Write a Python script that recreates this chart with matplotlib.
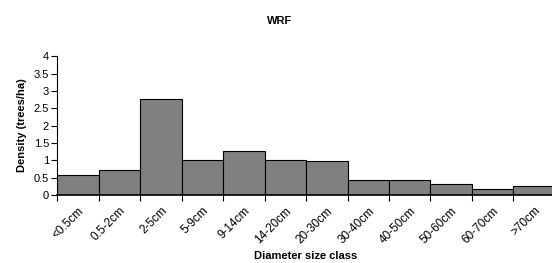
import matplotlib
matplotlib.use("Agg")
import matplotlib.pyplot as plt
import numpy as np

categories = ["<0.5cm", "0.5-2cm", "2-5cm", "5-9cm", "9-14cm", "14-20cm", "20-30cm",
              "30-40cm", "40-50cm", "50-60cm", "60-70cm", ">70cm"]
density = [0.57, 0.71, 2.77, 1.02, 1.27, 1.02, 0.98, 0.43, 0.43, 0.31, 0.16, 0.25]
yticks = [0, 0.5, 1, 1.5, 2, 2.5, 3, 3.5, 4]
ytick_labels = ["0", "0.5", "1", "1.5", "2", "2.5", "3", "3.5", "4"]

plt.rcParams['font.family'] = ['Liberation Sans', 'DejaVu Sans']

fig = plt.figure(figsize=(5.52, 2.63), dpi=100)
ax = fig.add_axes([0.104, 0.2586, 0.901, 0.5275])

x = np.arange(len(categories))
ax.bar(x, density, width=1.0, color="#808080", edgecolor="black", linewidth=0.8)

ax.set_xlim(-0.5, len(categories) - 0.5)
ax.set_ylim(0, 4)
ax.set_yticks(yticks)
ax.set_yticklabels(ytick_labels, fontsize=8)
ax.set_xticks(x)
ax.set_xticklabels(categories, rotation=45, ha="right", rotation_mode="anchor", fontsize=8.5)
ax.set_xticks(np.arange(len(categories) + 1) - 0.5, minor=True)
ax.tick_params(axis="x", which="major", length=0, pad=7)
ax.tick_params(axis="x", which="minor", length=4, width=0.8, direction="out")
ax.tick_params(axis="y", length=4, width=0.8, direction="out", pad=2)

for s in ["top", "right"]:
    ax.spines[s].set_visible(False)
ax.spines["left"].set_linewidth(0.8)
ax.spines["bottom"].set_linewidth(1.2)

ax.set_ylabel("Density (trees/ha)", fontsize=8, fontweight="bold", labelpad=5)
ax.set_xlabel("Diameter size class", fontsize=8, fontweight="bold", labelpad=4)
fig.text(0.507, 0.92, "WRF", ha="center", va="center", fontsize=8, fontweight="bold")

fig.savefig("out.png", dpi=100)
